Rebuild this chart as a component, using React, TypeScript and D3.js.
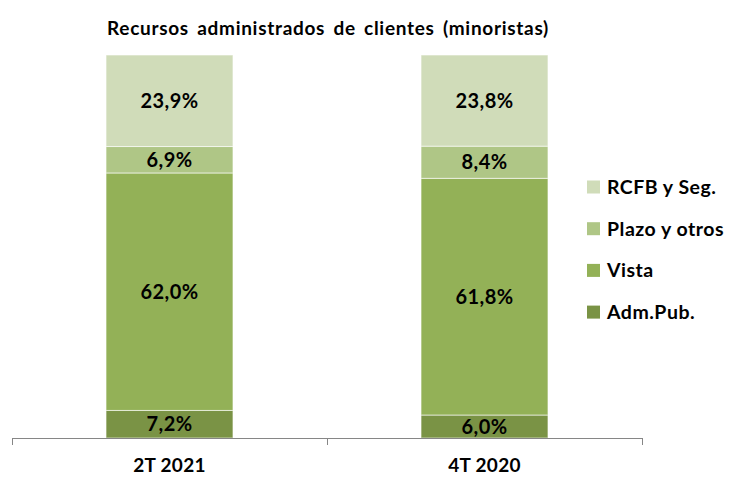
import React, { useEffect, useRef } from 'react';
import * as d3 from 'd3';

const categories = ['2T 2021', '4T 2020'];
const seriesNames = ['Adm.Pub.', 'Vista', 'Plazo y otros', 'RCFB y Seg.'];
const admPub = [7.2, 6.0];
const vista = [62.0, 61.8];
const plazo = [6.9, 8.4];
const rcfb = [23.9, 23.8];
const colors = ['#7a9345', '#93b157', '#afc686', '#d0dcb9'];

const FONT = 'Lato, "Open Sans", sans-serif';

const App = () => {
  const svgRef = useRef<SVGSVGElement>(null);

  useEffect(() => {
    const svg = d3.select(svgRef.current);
    svg.selectAll('*').remove();

    const rows = categories.map((c, i) => ({
      cat: c,
      'Adm.Pub.': admPub[i],
      Vista: vista[i],
      'Plazo y otros': plazo[i],
      'RCFB y Seg.': rcfb[i],
    }));

    const x = d3.scaleBand().domain(categories).range([12, 642]).padding(0);
    const y = d3.scaleLinear().domain([0, 100]).range([438, 55]);
    const color = d3.scaleOrdinal<string>().domain(seriesNames).range(colors);
    const barW = x.step() * 0.403;

    const stack = d3.stack<any>().keys(seriesNames)(rows);

    svg
      .append('text')
      .attr('x', 328)
      .attr('y', 35)
      .attr('text-anchor', 'middle')
      .attr('font-family', FONT)
      .attr('font-weight', 'bold')
      .attr('font-size', 19)
      .attr('letter-spacing', 0.7)
      .attr('word-spacing', 3)
      .attr('fill', '#000')
      .text('Recursos administrados de clientes (minoristas)');

    const layers = svg
      .selectAll('g.layer')
      .data(stack)
      .enter()
      .append('g')
      .attr('class', 'layer')
      .attr('fill', d => color(d.key));

    layers
      .selectAll('rect')
      .data(d => d)
      .enter()
      .append('rect')
      .attr('x', d => x(d.data.cat)! + x.bandwidth() / 2 - barW / 2)
      .attr('y', d => y(d[1]))
      .attr('width', barW)
      .attr('height', d => y(d[0]) - y(d[1]))
      .attr('stroke', '#ffffff')
      .attr('stroke-opacity', 0.6)
      .attr('stroke-width', 1);

    layers
      .selectAll('text')
      .data(d => d)
      .enter()
      .append('text')
      .attr('x', d => x(d.data.cat)! + x.bandwidth() / 2)
      .attr('y', d => (y(d[0]) + y(d[1])) / 2)
      .attr('dy', '0.36em')
      .attr('text-anchor', 'middle')
      .attr('font-family', FONT)
      .attr('font-weight', 'bold')
      .attr('font-size', 20)
      .attr('letter-spacing', 0.4)
      .attr('fill', '#000')
      .text(d => d3.format('.1f')(d[1] - d[0]).replace('.', ',') + '%');

    // axis
    const axis = svg.append('g');
    axis
      .append('line')
      .attr('x1', x.range()[0])
      .attr('x2', x.range()[1])
      .attr('y1', 438.5)
      .attr('y2', 438.5)
      .attr('stroke', '#868686');
    const tickXs = [x.range()[0], ...categories.slice(1).map(c => x(c)!), x.range()[1]];
    axis
      .selectAll('line.tick')
      .data(tickXs)
      .enter()
      .append('line')
      .attr('class', 'tick')
      .attr('x1', d => Math.round(d) + 0.5)
      .attr('x2', d => Math.round(d) + 0.5)
      .attr('y1', 438)
      .attr('y2', 445)
      .attr('stroke', '#868686');
    axis
      .selectAll('text')
      .data(categories)
      .enter()
      .append('text')
      .attr('x', d => x(d)! + x.bandwidth() / 2)
      .attr('y', 472)
      .attr('text-anchor', 'middle')
      .attr('font-family', FONT)
      .attr('font-weight', 'bold')
      .attr('font-size', 19)
      .attr('letter-spacing', 0.3)
      .attr('fill', '#000')
      .text(d => d);

    // legend
    const legendOrder = seriesNames.slice().reverse();
    const lg = svg
      .selectAll('g.legend')
      .data(legendOrder)
      .enter()
      .append('g')
      .attr('class', 'legend')
      .attr('transform', (d, i) => `translate(587, ${187 + i * 41.7})`);
    lg.append('rect')
      .attr('x', 0)
      .attr('y', -6.5)
      .attr('width', 13)
      .attr('height', 13)
      .attr('fill', d => color(d));
    lg.append('text')
      .attr('x', 20)
      .attr('y', 0)
      .attr('dy', '0.36em')
      .attr('font-family', FONT)
      .attr('font-weight', 'bold')
      .attr('font-size', 19.5)
      .attr('letter-spacing', 0.5)
      .attr('fill', '#000')
      .text(d => d);
  }, []);

  return (
    <svg
      ref={svgRef}
      width={732}
      height={477}
      style={{ position: 'absolute', left: 0, top: 0, background: '#fff' }}
    ></svg>
  );
};

export default App;
